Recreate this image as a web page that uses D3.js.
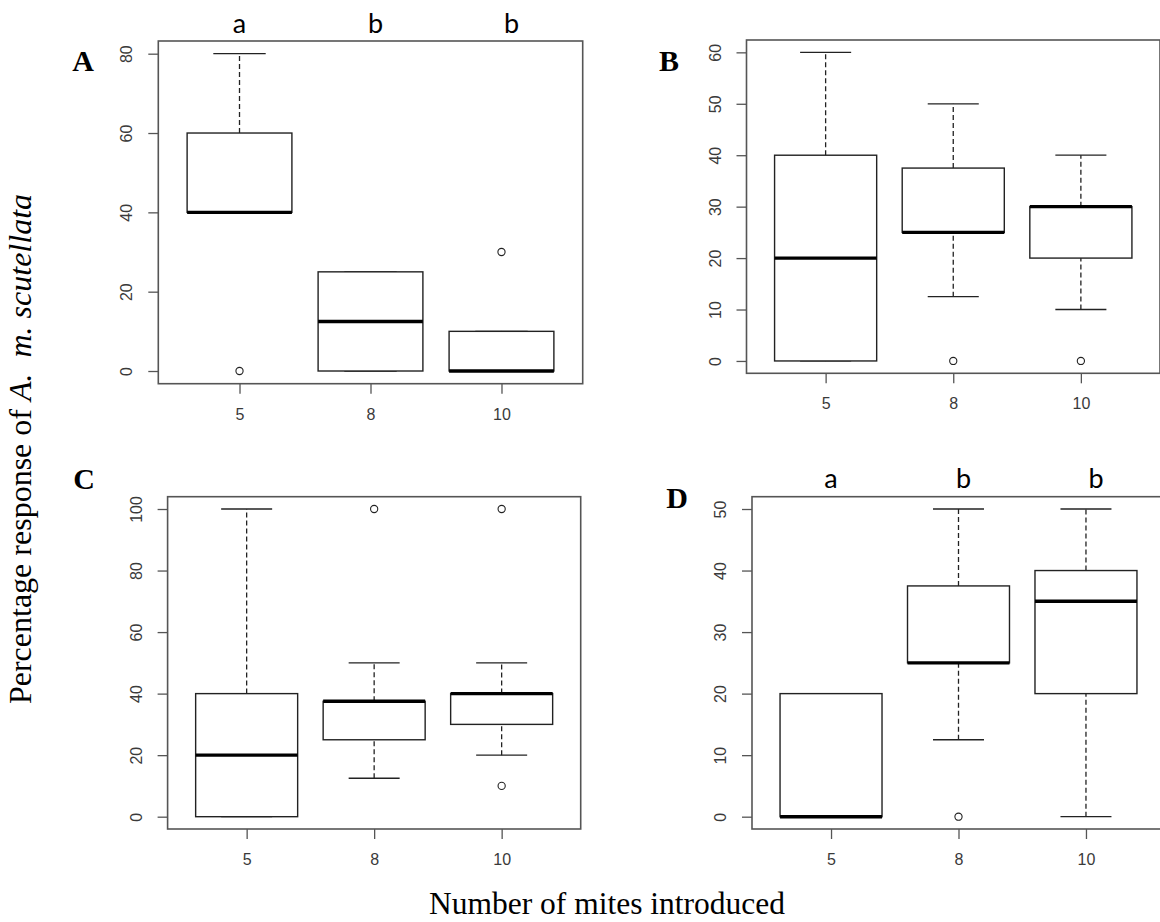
<!DOCTYPE html>
<html>
<head>
<meta charset="utf-8">
<script src="https://cdn.jsdelivr.net/npm/d3@7"></script>
<style>
  body { margin: 0; background: #fff; }
  svg { display: block; }
</style>
</head>
<body>
<div id="chart"></div>
<script>
// groups on the x axis (number of mites introduced)
const groups = ['5', '8', '10'];

// box stats per group: [lower whisker, q1, median, q3, upper whisker]
const statsA = [[40, 40, 40, 60, 80], [0, 0, 12.5, 25, 25], [0, 0, 0, 10, 10]];
const statsB = [[0, 0, 20, 40, 60], [12.5, 25, 25, 37.5, 50], [10, 20, 30, 30, 40]];
const statsC = [[0, 0, 20, 40, 100], [12.5, 25, 37.5, 37.5, 50], [20, 30, 40, 40, 50]];
const statsD = [[0, 0, 0, 20, 20], [12.5, 25, 25, 37.5, 50], [0, 20, 35, 40, 50]];

// outliers per group
const outA = [[0], [], [30]];
const outB = [[], [0], [0]];
const outC = [[], [100], [100, 10]];
const outD = [[], [0], []];

// y tick labels
const ticksA = [0, 20, 40, 60, 80];
const ticksB = [0, 10, 20, 30, 40, 50, 60];
const ticksC = [0, 20, 40, 60, 80, 100];
const ticksD = [0, 10, 20, 30, 40, 50];

// significance letters
const lettersA = ['a', 'b', 'b'];
const lettersD = ['a', 'b', 'b'];

const width = 1160;
const height = 922;

const svg = d3.select('#chart')
    .append('svg')
    .attr('width', width)
    .attr('height', height);

const panels = [
    { id: 'A', stats: statsA, out: outA, ticks: ticksA, letters: lettersA,
      box: { l: 158.3, r: 582.7, t: 41, b: 383.7 }, tag: [83, 71] },
    { id: 'B', stats: statsB, out: outB, ticks: ticksB, letters: null,
      box: { l: 746.5, r: 1160, t: 40, b: 373.3 }, tag: [669, 71] },
    { id: 'C', stats: statsC, out: outC, ticks: ticksC, letters: null,
      box: { l: 167.6, r: 580.7, t: 496.7, b: 829 }, tag: [84, 489] },
    { id: 'D', stats: statsD, out: outD, ticks: ticksD, letters: lettersD,
      box: { l: 752, r: 1165, t: 496.7, b: 829 }, tag: [677, 508] }
];

const frameCol = '#555';
const boxCol = '#222';

function drawPanel(p) {
    const lo = d3.min(p.ticks), hi = d3.max(p.ticks);
    const pad = (hi - lo) * 0.04;

    // R style: 4% padding on both axes
    const x = d3.scaleLinear().domain([0.38, 3.62]).range([p.box.l, p.box.r]);
    const y = d3.scaleLinear().domain([lo - pad, hi + pad]).range([p.box.b, p.box.t]);

    const g = svg.append('g');

    // y axis
    const yAxis = g.append('g')
        .attr('transform', `translate(${p.box.l},0)`)
        .call(d3.axisLeft(y).tickValues(p.ticks).tickSize(10));
    yAxis.select('.domain').remove();
    yAxis.selectAll('line').attr('stroke', frameCol).attr('stroke-width', 1.3);
    yAxis.selectAll('text')
        .attr('transform', 'rotate(-90)')
        .attr('x', 0)
        .attr('y', -26)
        .attr('dy', 0)
        .attr('text-anchor', 'middle')
        .attr('fill', '#3a3a3a')
        .style('font-family', '"Liberation Sans", Arial, sans-serif')
        .style('font-size', '16px');

    // x axis
    const xAxis = g.append('g')
        .attr('transform', `translate(0,${p.box.b})`)
        .call(d3.axisBottom(x).tickValues([1, 2, 3]).tickFormat(i => groups[i - 1]).tickSize(10));
    xAxis.select('.domain').remove();
    xAxis.selectAll('line').attr('stroke', frameCol).attr('stroke-width', 1.3);
    xAxis.selectAll('text')
        .attr('y', 36)
        .attr('dy', 0)
        .attr('fill', '#3a3a3a')
        .style('font-family', '"Liberation Sans", Arial, sans-serif')
        .style('font-size', '16px');

    const items = p.stats.map((s, i) => ({ i: i + 1, s: s, out: p.out[i] }));

    const boxes = g.selectAll('.bx')
        .data(items)
        .enter()
        .append('g')
        .classed('bx', true);

    // whiskers (dashed)
    boxes.append('line')
        .attr('x1', d => x(d.i)).attr('x2', d => x(d.i))
        .attr('y1', d => y(d.s[0])).attr('y2', d => y(d.s[1]))
        .attr('stroke', boxCol).attr('stroke-width', 1.3)
        .attr('stroke-dasharray', '5,3');
    boxes.append('line')
        .attr('x1', d => x(d.i)).attr('x2', d => x(d.i))
        .attr('y1', d => y(d.s[3])).attr('y2', d => y(d.s[4]))
        .attr('stroke', boxCol).attr('stroke-width', 1.3)
        .attr('stroke-dasharray', '5,3');

    // staples
    [0, 4].forEach(k => {
        boxes.append('line')
            .attr('x1', d => x(d.i - 0.2)).attr('x2', d => x(d.i + 0.2))
            .attr('y1', d => y(d.s[k])).attr('y2', d => y(d.s[k]))
            .attr('stroke', boxCol).attr('stroke-width', 1.3);
    });

    // box
    boxes.append('rect')
        .attr('x', d => x(d.i - 0.4))
        .attr('width', d => x(d.i + 0.4) - x(d.i - 0.4))
        .attr('y', d => y(d.s[3]))
        .attr('height', d => y(d.s[1]) - y(d.s[3]))
        .attr('fill', 'white')
        .attr('stroke', boxCol)
        .attr('stroke-width', 1.4);

    // median
    boxes.append('line')
        .attr('x1', d => x(d.i - 0.4)).attr('x2', d => x(d.i + 0.4))
        .attr('y1', d => y(d.s[2])).attr('y2', d => y(d.s[2]))
        .attr('stroke', '#000').attr('stroke-width', 3.4);

    // outliers
    boxes.selectAll('circle')
        .data(d => d.out.map(v => ({ i: d.i, v: v })))
        .enter()
        .append('circle')
        .attr('cx', d => x(d.i))
        .attr('cy', d => y(d.v))
        .attr('r', 3.6)
        .attr('fill', 'none')
        .attr('stroke', boxCol)
        .attr('stroke-width', 1.1);

    // frame
    g.append('rect')
        .attr('x', p.box.l).attr('y', p.box.t)
        .attr('width', p.box.r - p.box.l)
        .attr('height', p.box.b - p.box.t)
        .attr('fill', 'none')
        .attr('stroke', frameCol)
        .attr('stroke-width', 1.6);

    // panel tag
    g.append('text')
        .attr('x', p.tag[0]).attr('y', p.tag[1])
        .attr('text-anchor', 'middle')
        .style('font-family', '"Liberation Serif", "Times New Roman", serif')
        .style('font-weight', 'bold')
        .style('font-size', '30px')
        .text(p.id);

    // letters above the boxes
    if (p.letters) {
        g.selectAll('.letter')
            .data(p.letters)
            .enter()
            .append('text')
            .attr('x', (d, i) => x(i + 1) + i * 5)
            .attr('y', p.box.t - 8.5)
            .attr('text-anchor', 'middle')
            .style('font-family', 'Lato, "Open Sans", sans-serif')
            .style('font-size', '27px')
            .text(d => d);
    }
}

panels.forEach(drawPanel);

// shared axis titles
const yTitle = svg.append('text')
    .attr('transform', 'translate(31,449) rotate(-90)')
    .attr('text-anchor', 'middle')
    .style('font-family', '"Liberation Serif", "Times New Roman", serif')
    .style('font-size', '32px');
yTitle.append('tspan').text('Percentage response of ');
yTitle.append('tspan').style('font-style', 'italic').text('A.');
yTitle.append('tspan').attr('dx', 16).style('font-style', 'italic').text('m. scutellata');

svg.append('text')
    .attr('x', 607)
    .attr('y', 914)
    .attr('text-anchor', 'middle')
    .style('font-family', '"Liberation Serif", "Times New Roman", serif')
    .style('font-size', '31.5px')
    .text('Number of mites introduced');
</script>
</body>
</html>
